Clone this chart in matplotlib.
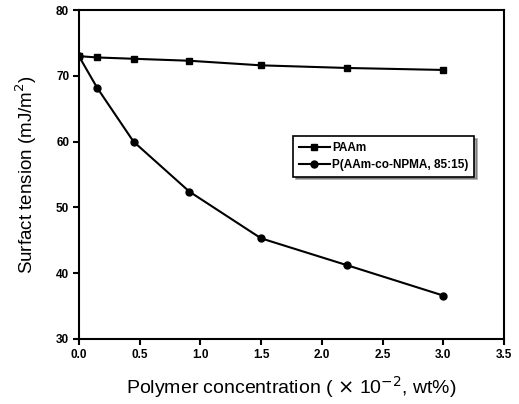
import matplotlib
matplotlib.use("Agg")
import matplotlib.pyplot as plt

conc = [0.0, 0.15, 0.45, 0.91, 1.50, 2.21, 3.0]
paam = [73.0, 72.8, 72.6, 72.3, 71.6, 71.2, 70.9]
copoly = [73.0, 68.2, 60.0, 52.4, 45.3, 41.2, 36.6]
xticks = [0.0, 0.5, 1.0, 1.5, 2.0, 2.5, 3.0, 3.5]
yticks = [30, 40, 50, 60, 70, 80]

plt.rcParams['font.family'] = ['Liberation Sans', 'DejaVu Sans']

fig = plt.figure(figsize=(5.19, 4.04), dpi=100)
ax = fig.add_axes([0.152, 0.161, 0.819, 0.814])

ax.plot(conc, paam, color='black', lw=1.5, marker='s', ms=4.5, label='PAAm')
ax.plot(conc, copoly, color='black', lw=1.5, marker='o', ms=5, label='P(AAm-co-NPMA, 85:15)')

ax.set_xlim(0, 3.5)
ax.set_ylim(30, 80)
ax.set_xticks(xticks)
ax.set_yticks(yticks)
ax.set_xticklabels([f"{t:.1f}" for t in xticks], fontweight='bold', fontsize=8.5)
ax.set_yticklabels([str(t) for t in yticks], fontweight='bold', fontsize=8.5)
ax.tick_params(direction='out', length=4, width=1.5, pad=3)
for s in ax.spines.values():
    s.set_linewidth(1.5)

ax.set_ylabel('Surfact tension (mJ/m$^2$)', fontsize=13.5, labelpad=12)
ax.set_xlabel('Polymer concentration ( $\\times$ 10$^{-2}$, wt%)', fontsize=14, labelpad=10)

leg = ax.legend(loc='upper left', bbox_to_anchor=(0.49, 0.635), frameon=True, fancybox=False,
                shadow=True, prop={'weight': 'bold', 'size': 8.5},
                handlelength=2.6, borderpad=0.5, labelspacing=0.4, handletextpad=0.2)
leg.get_frame().set_edgecolor('black')
leg.get_frame().set_linewidth(1.2)

fig.savefig('out.png', dpi=100)
